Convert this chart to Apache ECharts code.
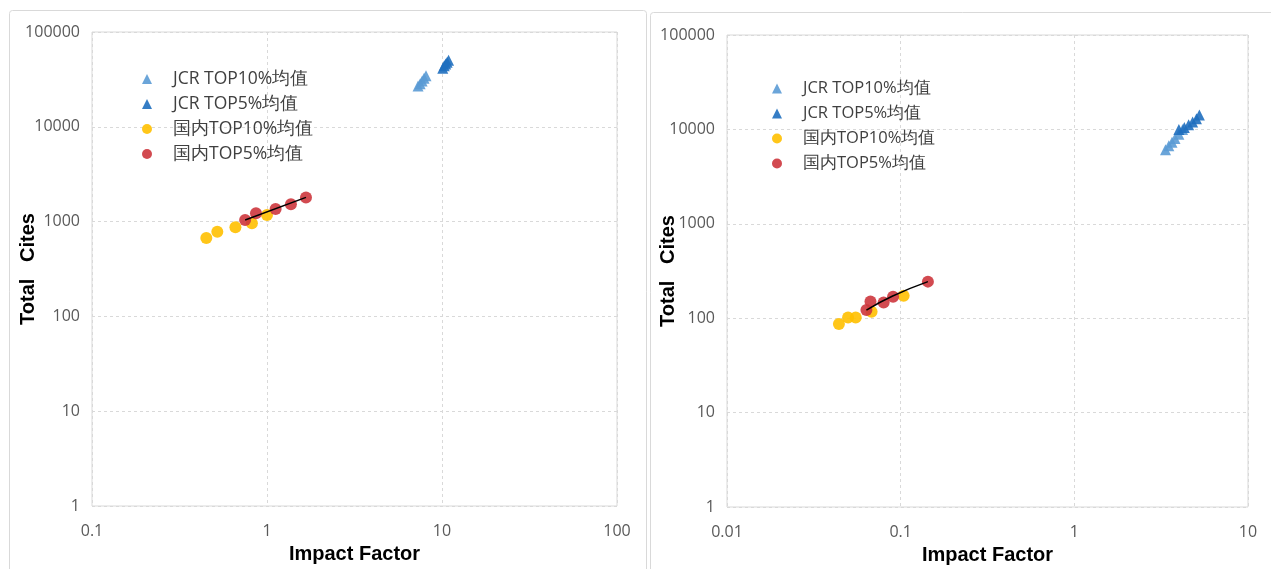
<!DOCTYPE html>
<html><head><meta charset="utf-8">
<script src="https://cdn.jsdelivr.net/npm/echarts@6/dist/echarts.min.js"></script>
<style>html,body{margin:0;padding:0;background:#fff}#c{width:1271px;height:569px}</style>
</head><body><div id="c"></div>
<script>
// Left panel (x: 0.1..100)
const L_jcr10 = [[7.3,27000],[7.5,28500],[7.7,30500],[7.9,32500],[8.1,34500]];
const L_jcr5  = [[10.1,41500],[10.3,44000],[10.5,46000],[10.7,48000],[10.9,50500]];
const L_cn10  = [[0.45,670],[0.52,780],[0.66,870],[0.82,960],[1.0,1175]];
const L_cn5   = [[0.75,1040],[0.865,1225],[1.12,1360],[1.37,1520],[1.67,1800]];
const L_trend = [[0.75,1040],[1.67,1800]];
// Right panel (x: 0.01..10)
const R_jcr10 = [[3.35,6100],[3.5,6700],[3.65,7300],[3.8,8000],[4.0,8900],[4.2,10000]];
const R_jcr5  = [[4.0,10000],[4.3,10500],[4.55,11200],[4.8,12000],[5.05,13000],[5.25,14200]];
const R_cn10  = [[0.0441,87],[0.0498,102],[0.0551,102],[0.068,117],[0.104,173]];
const R_cn5   = [[0.0635,122],[0.067,150],[0.0798,147],[0.0904,169],[0.1435,244]];
const R_trend = [[0.0635,122],[0.09,172],[0.1435,244]];
const names = ['JCR TOP10%均值','JCR TOP5%均值','国内TOP10%均值','国内TOP5%均值'];
const xTitle = 'Impact Factor', yTitle = 'Total   Cites';

const colors = {jcr10:'#5B9BD5', jcr5:'#1F6FBF', cn10:'#FFC000', cn5:'#CD363D'};
const labelFont = {color:'#595959', fontSize:16, fontFamily:'Open Sans'};
const fmt = v => String(+(+v).toPrecision(3));

function xAx(gi,min,max){return {type:'log',logBase:10,gridIndex:gi,min:min,max:max,
  axisLine:{show:false},axisTick:{show:false},
  axisLabel:Object.assign({margin:17,formatter:fmt},labelFont),
  splitLine:{show:true,lineStyle:{color:'#d9d9d9',type:[3,3]}},
  name:xTitle,nameLocation:'middle',nameGap:38,nameMoveOverlap:false,
  nameTextStyle:{fontSize:20,fontWeight:'bold',color:'#000',fontFamily:'Liberation Sans'}};}
function yAx(gi,gap){return {type:'log',logBase:10,gridIndex:gi,min:1,max:100000,
  axisLine:{show:false},axisTick:{show:false},
  axisLabel:Object.assign({margin:12,formatter:fmt},labelFont),
  splitLine:{show:true,lineStyle:{color:'#d9d9d9',type:[3,3]}},
  name:yTitle,nameLocation:'middle',nameGap:gap,nameMoveOverlap:false,
  nameTextStyle:{fontSize:20,fontWeight:'bold',color:'#000',fontFamily:'Liberation Sans'}};}

function sc(name,data,gi,sym,col,size){return {name:name,type:'scatter',xAxisIndex:gi,yAxisIndex:gi,
  data:data,symbol:sym,symbolSize:size,itemStyle:{color:col,opacity:0.9},z:3};}
function tr(data,gi){return {type:'line',xAxisIndex:gi,yAxisIndex:gi,data:data,symbol:'none',smooth:true,
  lineStyle:{color:'#000',width:1.5},z:4,silent:true};}

function leg(left,top,fs,gap){return {left:left,top:top,orient:'vertical',itemGap:gap,itemWidth:10,itemHeight:10,
  textStyle:{fontSize:fs,color:'#404040',fontFamily:'Open Sans',padding:[0,0,0,16]},selectedMode:false,
  data:[{name:names[0],icon:'triangle'},{name:names[1],icon:'triangle'},{name:names[2],icon:'circle'},{name:names[3],icon:'circle'}]};}
const option = {
  animation:false,
  graphic:[
    {type:'rect',shape:{x:9.5,y:10.5,width:637,height:600,r:3},style:{fill:'none',stroke:'#d9d9d9',lineWidth:1}},
    {type:'rect',shape:{x:650.5,y:12.5,width:640,height:600,r:3},style:{fill:'none',stroke:'#d9d9d9',lineWidth:1}}
  ],
  grid:[
    {left:92,top:32,width:525,height:474,show:true,borderColor:'#d9d9d9',borderWidth:1,outerBoundsMode:'none'},
    {left:727,top:35,width:521,height:472,show:true,borderColor:'#d9d9d9',borderWidth:1,outerBoundsMode:'none'}
  ],
  legend:[leg(137,65,17.5,7),leg(767,75,16.5,8)],
  xAxis:[xAx(0,0.1,100),xAx(1,0.01,10)],
  yAxis:[yAx(0,54),yAx(1,49)],
  series:[
    sc(names[0],L_jcr10,0,'triangle',colors.jcr10,11),
    sc(names[1],L_jcr5,0,'triangle',colors.jcr5,11),
    sc(names[2],L_cn10,0,'circle',colors.cn10,12),
    sc(names[3],L_cn5,0,'circle',colors.cn5,12),
    tr(L_trend,0),
    sc(names[0],R_jcr10,1,'triangle',colors.jcr10,11),
    sc(names[1],R_jcr5,1,'triangle',colors.jcr5,11),
    sc(names[2],R_cn10,1,'circle',colors.cn10,12),
    sc(names[3],R_cn5,1,'circle',colors.cn5,12),
    tr(R_trend,1)
  ]
};
const chart = echarts.init(document.getElementById('c'),null,{renderer:'canvas'});
chart.setOption(option);
</script></body></html>
